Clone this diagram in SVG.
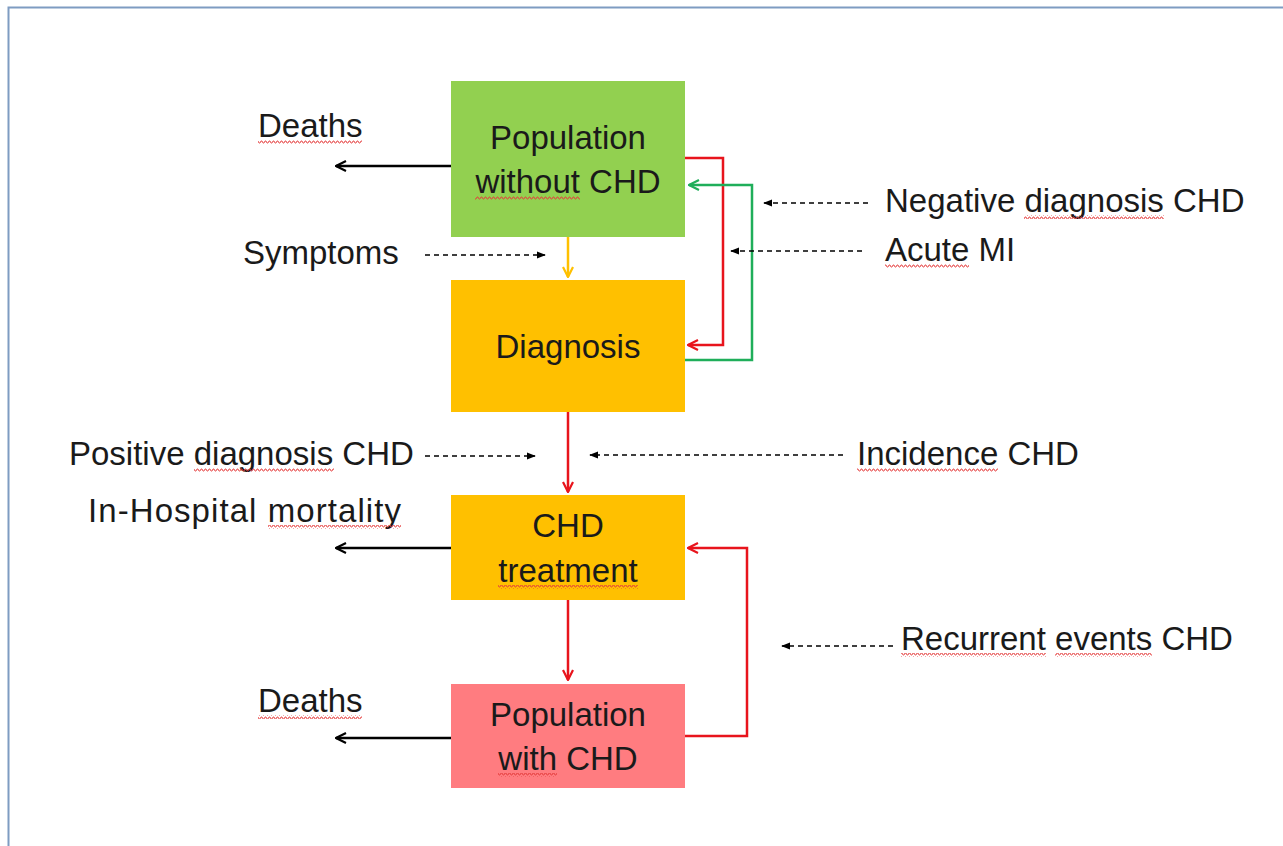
<svg xmlns="http://www.w3.org/2000/svg" width="1283" height="846" viewBox="0 0 1283 846">
<style>
text{font-family:"Liberation Sans",Arial,sans-serif;font-size:33px;fill:#1a1a1a}
.ctr{text-anchor:middle}
.solid{fill:none;stroke-width:2.5;stroke-linejoin:miter}
.blk{stroke:#000}
.red{stroke:#e8141c}
.grn{stroke:#1fae5a}
.yel{stroke:#ffc000}
.dash{fill:none;stroke:#000;stroke-width:1.3;stroke-dasharray:5 4}
.wave{fill:url(#squig)}
</style>
<defs>
<pattern id="squig" width="4" height="4" patternUnits="userSpaceOnUse">
<path d="M0,3 L1,1 L2,1 L3,3 L4,3" fill="none" stroke="#e43c3c" stroke-width="0.9"/>
</pattern>
<marker id="openBlk" viewBox="0 0 12 12" refX="11" refY="6" markerWidth="12" markerHeight="12" markerUnits="userSpaceOnUse" orient="auto">
<path d="M1,1 L11,6 L1,11" fill="none" stroke="#000" stroke-width="2.2"/>
</marker>
<marker id="openRed" viewBox="0 0 12 12" refX="11" refY="6" markerWidth="12" markerHeight="12" markerUnits="userSpaceOnUse" orient="auto">
<path d="M1,1 L11,6 L1,11" fill="none" stroke="#e8141c" stroke-width="2.2"/>
</marker>
<marker id="openGrn" viewBox="0 0 12 12" refX="11" refY="6" markerWidth="12" markerHeight="12" markerUnits="userSpaceOnUse" orient="auto">
<path d="M1,1 L11,6 L1,11" fill="none" stroke="#1fae5a" stroke-width="2.2"/>
</marker>
<marker id="openYel" viewBox="0 0 12 12" refX="11" refY="6" markerWidth="12" markerHeight="12" markerUnits="userSpaceOnUse" orient="auto">
<path d="M1,1 L11,6 L1,11" fill="none" stroke="#ffc000" stroke-width="2.2"/>
</marker>
<marker id="tri" viewBox="0 0 10 10" refX="9" refY="5" markerWidth="9" markerHeight="9" markerUnits="userSpaceOnUse" orient="auto">
<path d="M0,1 L10,5 L0,9 Z" fill="#000"/>
</marker>
</defs>
<rect width="1283" height="846" fill="#fff"/>
<path d="M8.5,846 V7.5 H1283" fill="none" stroke="#7e9cc2" stroke-width="2"/>

<g id="node-pop-without">
<rect x="451" y="81" width="234" height="156" fill="#92d050"/>
<text class="ctr" x="568" y="149">Population</text>
<text class="ctr" x="568" y="193">without CHD</text>
<rect class="wave" x="475" y="196" width="105" height="4"/>
</g>
<g id="node-diagnosis">
<rect x="451" y="280" width="234" height="132" fill="#ffc000"/>
<text class="ctr" x="568" y="358">Diagnosis</text>
</g>
<g id="node-treatment">
<rect x="451" y="495" width="234" height="105" fill="#ffc000"/>
<text class="ctr" x="568" y="537">CHD</text>
<text class="ctr" x="568" y="582">treatment</text>
<rect class="wave" x="498" y="585" width="140" height="4"/>
</g>
<g id="node-pop-with">
<rect x="451" y="684" width="234" height="104" fill="#ff7c80"/>
<text class="ctr" x="568" y="726">Population</text>
<text class="ctr" x="568" y="770">with CHD</text>
<rect class="wave" x="498" y="773" width="59" height="4"/>
</g>

<g id="label-deaths-top">
<text x="258" y="137">Deaths</text>
<rect class="wave" x="258" y="140" width="104" height="4"/>
</g>
<g id="label-symptoms"><text x="243" y="264">Symptoms</text></g>
<g id="label-negative">
<text x="885" y="212">Negative diagnosis CHD</text>
<rect class="wave" x="1024" y="215" width="140" height="4"/>
</g>
<g id="label-acute">
<text x="885" y="261">Acute MI</text>
<rect class="wave" x="885" y="264" width="84" height="4"/>
</g>
<g id="label-positive">
<text x="69" y="465">Positive diagnosis CHD</text>
<rect class="wave" x="194" y="468" width="140" height="4"/>
</g>
<g id="label-incidence">
<text x="857" y="465">Incidence CHD</text>
<rect class="wave" x="857" y="468" width="141" height="4"/>
</g>
<g id="label-inhospital">
<text x="88" y="522" textLength="313" lengthAdjust="spacing">In-Hospital mortality</text>
<rect class="wave" x="268" y="525" width="133" height="4"/>
</g>
<g id="label-recurrent">
<text x="901" y="650">Recurrent events CHD</text>
<rect class="wave" x="901" y="653" width="145" height="4"/>
<rect class="wave" x="1055" y="653" width="97" height="4"/>
</g>
<g id="label-deaths-bottom">
<text x="258" y="712">Deaths</text>
<rect class="wave" x="258" y="715" width="104" height="4"/>
</g>

<g id="connectors">
<path class="solid blk" d="M451,166 H336" marker-end="url(#openBlk)"/>
<path class="solid yel" d="M568,237 V277" marker-end="url(#openYel)"/>
<path class="solid red" d="M685,158 H723 V345 H688" marker-end="url(#openRed)"/>
<path class="solid grn" d="M685,360 H752 V185 H689" marker-end="url(#openGrn)"/>
<path class="solid red" d="M568,412 V492" marker-end="url(#openRed)"/>
<path class="solid blk" d="M451,548 H336" marker-end="url(#openBlk)"/>
<path class="solid red" d="M568,600 V680" marker-end="url(#openRed)"/>
<path class="solid red" d="M685,736 H747 V548 H688" marker-end="url(#openRed)"/>
<path class="solid blk" d="M451,738 H336" marker-end="url(#openBlk)"/>
<path class="dash" d="M425,255 H545" marker-end="url(#tri)"/>
<path class="dash" d="M868,203 H764" marker-end="url(#tri)"/>
<path class="dash" d="M862,251 H731" marker-end="url(#tri)"/>
<path class="dash" d="M425,456 H535" marker-end="url(#tri)"/>
<path class="dash" d="M843,455 H590" marker-end="url(#tri)"/>
<path class="dash" d="M893,646 H782" marker-end="url(#tri)"/>
</g>
</svg>
